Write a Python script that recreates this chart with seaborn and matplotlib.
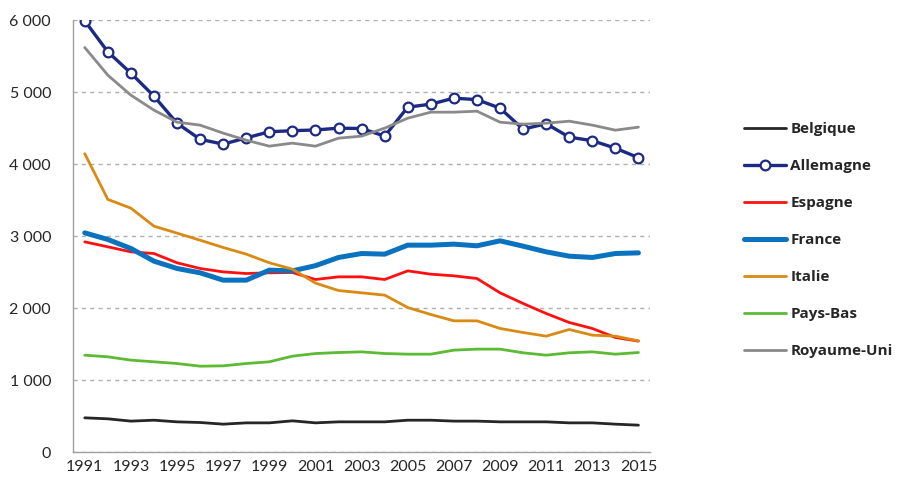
import numpy as np
import pandas as pd
import matplotlib
matplotlib.use('Agg')
import matplotlib.pyplot as plt
import seaborn as sns
from matplotlib.lines import Line2D


sns.set_theme(style='white')
plt.rcParams['font.family'] = ['Lato', 'DejaVu Sans']

years = list(range(1991, 2016))

belgique = [477, 463, 431, 444, 421, 412, 389, 407, 407, 435, 407, 421, 421,
            421, 444, 444, 431, 431, 421, 421, 421, 407, 407, 389, 375]
allemagne = [5990, 5560, 5264, 4944, 4569, 4345, 4278, 4365, 4450, 4465, 4475,
             4500, 4495, 4389, 4792, 4833, 4917, 4896, 4778, 4486, 4562, 4375,
             4326, 4222, 4090]
espagne = [2921, 2852, 2782, 2759, 2630, 2551, 2504, 2481, 2491, 2495, 2398,
           2435, 2435, 2398, 2518, 2472, 2449, 2412, 2213, 2065, 1926, 1801,
           1718, 1593, 1542]
france = [3046, 2954, 2829, 2653, 2551, 2491, 2389, 2389, 2528, 2518, 2590,
          2704, 2759, 2750, 2875, 2875, 2889, 2866, 2935, 2861, 2782, 2722,
          2704, 2759, 2768]
italie = [4146, 3510, 3389, 3139, 3042, 2944, 2843, 2750, 2630, 2542, 2348,
          2245, 2213, 2181, 2009, 1912, 1824, 1824, 1718, 1662, 1611, 1704,
          1625, 1611, 1546]
pays_bas = [1347, 1324, 1278, 1255, 1231, 1194, 1199, 1231, 1255, 1333, 1370,
            1384, 1393, 1370, 1361, 1361, 1417, 1431, 1431, 1380, 1347, 1380,
            1393, 1361, 1384]
royaume_uni = [5620, 5236, 4958, 4750, 4583, 4542, 4431, 4333, 4250, 4292, 4250,
               4361, 4389, 4500, 4639, 4722, 4722, 4736, 4583, 4556, 4569, 4597,
               4542, 4472, 4514]

countries = ['Belgique', 'Allemagne', 'Espagne', 'France', 'Italie',
             'Pays-Bas', 'Royaume-Uni']
values = [belgique, allemagne, espagne, france, italie, pays_bas, royaume_uni]
colors = ['#262626', '#1c2a84', '#ff1010', '#0a72be', '#d98a12', '#5dba34', '#8a8a8a']
widths = [2.0, 2.4, 2.0, 3.6, 2.0, 2.0, 2.0]

df = pd.DataFrame({'annee': years})
for name, vals in zip(countries, values):
    df[name] = vals

fig = plt.figure(figsize=(9.04, 4.8), dpi=100)
ax = fig.add_axes([0.081, 0.058, 0.638, 0.900])

handles = []
for name, col, lw in zip(countries, colors, widths):
    if name == 'Allemagne':
        mk = dict(marker='o', markersize=7, markerfacecolor='white',
                  markeredgecolor=col, markeredgewidth=1.6)
    else:
        mk = {}
    sns.lineplot(data=df, x='annee', y=name, ax=ax, color=col, lw=lw,
                 legend=False, **mk)
    handles.append(Line2D([0], [0], color=col, lw=lw, **mk))

ax.set_xlim(1990.5, 2015.5)
ax.set_ylim(0, 6000)
ax.set_xlabel('')
ax.set_ylabel('')

ax.set_yticks(range(0, 6001, 1000))
ax.set_yticklabels(['0' if v == 0 else f'{v // 1000} 000' for v in range(0, 6001, 1000)],
                   fontsize=11.5, color='#262626')
ax.set_xticks(years[::2])
ax.set_xticklabels([str(y) for y in years[::2]], fontsize=11.5, color='#262626')
ax.set_xticks(np.arange(1990.5, 2016, 1), minor=True)
ax.tick_params(axis='x', which='major', length=0, pad=6)
ax.tick_params(axis='x', which='minor', length=5, color='#a0a0a0', direction='out')
ax.tick_params(axis='y', length=6, color='#a0a0a0', direction='out', pad=10)
ax.yaxis.grid(True, linestyle=(0, (3, 3)), color='#b0b0b0', lw=1)
ax.set_axisbelow(True)

for s in ['top', 'right']:
    ax.spines[s].set_visible(False)
for s in ['left', 'bottom']:
    ax.spines[s].set_color('#a0a0a0')
    ax.spines[s].set_linewidth(1)

leg = ax.legend(handles, countries, loc='upper left', bbox_to_anchor=(1.14, 0.795),
                frameon=False, numpoints=1,
                prop={'family': 'Open Sans', 'weight': 'bold', 'size': 11},
                handlelength=2.7, handletextpad=0.3, labelspacing=1.5)
for t in leg.get_texts():
    t.set_color('#262626')

plt.savefig('out.png', dpi=100)
